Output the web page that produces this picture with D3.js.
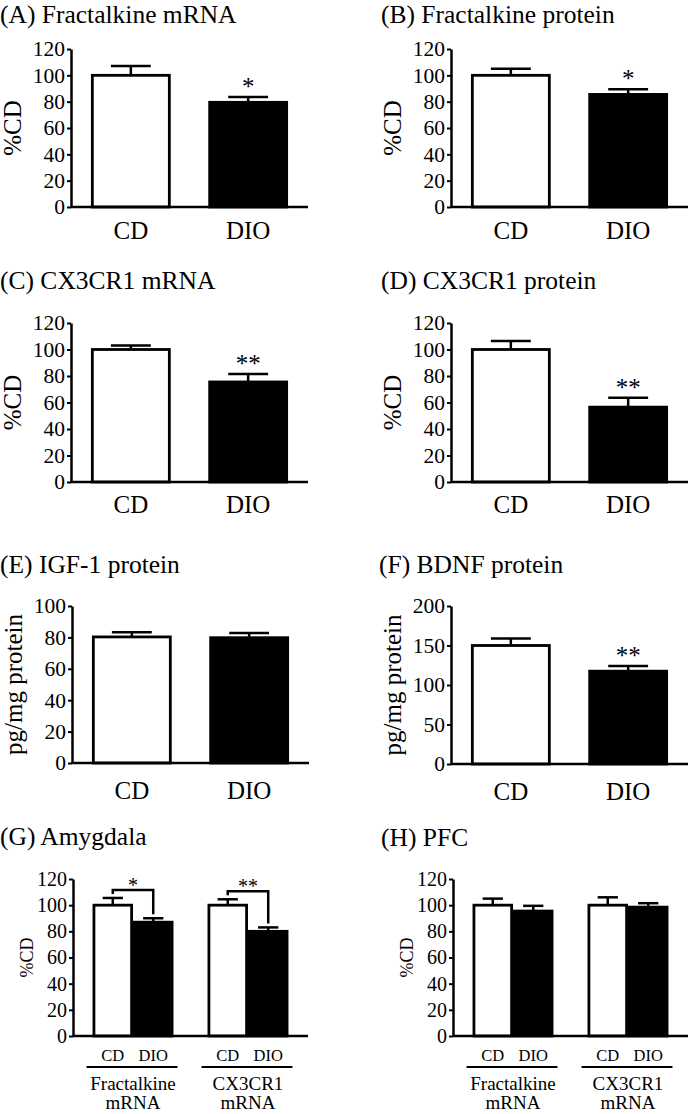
<!DOCTYPE html>
<html>
<head>
<meta charset="utf-8">
<script src="https://cdn.jsdelivr.net/npm/d3@7"></script>
<style>
  html, body { margin: 0; padding: 0; background: #fff; }
  svg { display: block; }
  svg text { font-family: "Liberation Serif", "Times New Roman", serif; fill: #000; }
</style>
</head>
<body>
<script>
// ---------------- DATA ----------------
const categories = ["CD", "DIO"];
const genes = ["Fractalkine mRNA", "CX3CR1 mRNA"];

const fractalkineMrnaMean = [100, 79.5];
const fractalkineMrnaErr = [7, 4];
const fractalkineProteinMean = [100, 85.5];
const fractalkineProteinErr = [5, 4];
const cx3cr1MrnaMean = [100, 75.5];
const cx3cr1MrnaErr = [3, 6];
const cx3cr1ProteinMean = [100, 56.5];
const cx3cr1ProteinErr = [6.5, 7];
const igf1Mean = [80.3, 79.8];
const igf1Err = [3, 3];
const bdnfMean = [150, 117.5];
const bdnfErr = [9, 6.5];

const amygdalaCDMean = [100, 100];
const amygdalaCDErr = [5.5, 4.5];
const amygdalaDIOMean = [87, 80];
const amygdalaDIOErr = [3, 3];
const pfcCDMean = [100, 100];
const pfcCDErr = [5, 6];
const pfcDIOMean = [95.5, 98.5];
const pfcDIOErr = [4, 3];

const ticks120 = [0, 20, 40, 60, 80, 100, 120];
const ticks100 = [0, 20, 40, 60, 80, 100];
const ticks200 = [0, 50, 100, 150, 200];

// ---------------- DRAW ----------------
const FONT = '"Liberation Serif", "Times New Roman", serif';
const svg = d3.select("body").append("svg").attr("width", 689).attr("height", 1114)
  .attr("font-family", FONT);

function txt(sel, fs) {
  return sel.attr("font-family", FONT).style("font-family", FONT).style("font-size", fs + "px").attr("fill", "#000");
}

function styleAxis(sel, fs) {
  sel.attr("font-family", FONT).attr("font-size", fs);
  sel.select(".domain").attr("stroke", "#000").attr("stroke-width", 2.5);
  sel.selectAll(".tick line").attr("stroke", "#000").attr("stroke-width", 2);
  txt(sel.selectAll(".tick text"), fs);
}

function drawSimple(p) {
  const g = svg.append("g");
  const x = d3.scaleBand().domain(categories).range([p.ax, p.ax + 237]).paddingInner(0.32).paddingOuter(0.17);
  const y = d3.scaleLinear().domain([0, p.max]).range([p.y0, p.yTop]);
  const ax = g.append("g").attr("transform", `translate(${p.ax},0)`)
    .call(d3.axisLeft(y).tickValues(p.ticks).tickSize(4).tickPadding(2).tickSizeOuter(0));
  styleAxis(ax, 21.5);
  const data = categories.map((c, i) => ({ c, i, m: p.means[i], e: p.errs[i] }));
  data.forEach(d => {
    const cx = x(d.c) + x.bandwidth() / 2;
    g.append("line").attr("x1", cx).attr("x2", cx).attr("y1", y(d.m)).attr("y2", y(d.m + d.e))
      .attr("stroke", "#000").attr("stroke-width", 2.5);
    g.append("line").attr("x1", cx - x.bandwidth() / 4).attr("x2", cx + x.bandwidth() / 4)
      .attr("y1", y(d.m + d.e)).attr("y2", y(d.m + d.e)).attr("stroke", "#000").attr("stroke-width", 2.5);
  });
  g.selectAll("rect.bar").data(data).join("rect")
    .attr("x", d => x(d.c) + 1.4).attr("width", x.bandwidth() - 2.8)
    .attr("y", d => y(d.m)).attr("height", d => p.y0 - y(d.m))
    .attr("fill", d => d.i === 0 ? "#fff" : "#000")
    .attr("stroke", "#000").attr("stroke-width", 2.8);
  g.append("line").attr("x1", p.ax).attr("x2", p.ax + 237).attr("y1", p.y0).attr("y2", p.y0)
    .attr("stroke", "#000").attr("stroke-width", 2.5);
  data.forEach(d => {
    if (p.sig[d.i]) {
      txt(g.append("text"), 25).attr("x", x(d.c) + x.bandwidth() / 2).attr("y", y(d.m + d.e) - 2)
        .attr("text-anchor", "middle").text(p.sig[d.i]);
    }
  });
  data.forEach(d => {
    txt(g.append("text"), 25).attr("x", x(d.c) + x.bandwidth() / 2).attr("y", p.xLabY)
      .attr("text-anchor", "middle").text(d.c);
  });
  txt(g.append("text"), 25).attr("transform", `translate(${p.ax - 50},${(p.y0 + p.yTop) / 2}) rotate(-90)`)
    .attr("text-anchor", "middle").text(p.ylabel);
  txt(g.append("text"), 25.5).attr("x", p.tx).attr("y", p.ty).text(p.title);
}

function drawGrouped(p) {
  const g = svg.append("g");
  const x0 = d3.scaleBand().domain(genes).range([p.ax, p.ax + 235]).paddingInner(0.296).paddingOuter(0.17);
  const x1 = d3.scaleBand().domain(categories).range([0, x0.bandwidth()]).padding(0);
  const y = d3.scaleLinear().domain([0, 120]).range([p.y0, p.yTop]);
  const ax = g.append("g").attr("transform", `translate(${p.ax},0)`)
    .call(d3.axisLeft(y).tickValues(ticks120).tickSize(4).tickPadding(2).tickSizeOuter(0));
  styleAxis(ax, 20);
  const data = [];
  genes.forEach((gn, gi) => {
    data.push({ gn, gi, c: "CD", i: 0, m: p.cdMean[gi], e: p.cdErr[gi] });
    data.push({ gn, gi, c: "DIO", i: 1, m: p.dioMean[gi], e: p.dioErr[gi] });
  });
  const cxOf = d => x0(d.gn) + x1(d.c) + x1.bandwidth() / 2;
  data.forEach(d => {
    const cx = cxOf(d);
    g.append("line").attr("x1", cx).attr("x2", cx).attr("y1", y(d.m)).attr("y2", y(d.m + d.e))
      .attr("stroke", "#000").attr("stroke-width", 2.5);
    g.append("line").attr("x1", cx - x1.bandwidth() / 4).attr("x2", cx + x1.bandwidth() / 4)
      .attr("y1", y(d.m + d.e)).attr("y2", y(d.m + d.e)).attr("stroke", "#000").attr("stroke-width", 2.5);
  });
  g.selectAll("rect.bar").data(data).join("rect")
    .attr("x", d => x0(d.gn) + x1(d.c) + 1.4).attr("width", x1.bandwidth() - 2.8)
    .attr("y", d => y(d.m)).attr("height", d => p.y0 - y(d.m))
    .attr("fill", d => d.i === 0 ? "#fff" : "#000")
    .attr("stroke", "#000").attr("stroke-width", 2.8);
  g.append("line").attr("x1", p.ax).attr("x2", p.ax + 235).attr("y1", p.y0).attr("y2", p.y0)
    .attr("stroke", "#000").attr("stroke-width", 2.5);
  genes.forEach((gn, gi) => {
    if (!p.sig || !p.sig[gi]) return;
    const a = data[gi * 2], b = data[gi * 2 + 1];
    const top = Math.min(y(a.m + a.e), y(b.m + b.e)) - 8;
    const xa = cxOf(a), xb = cxOf(b);
    g.append("path")
      .attr("d", `M${xa},${y(a.m + a.e) - 4}V${top}H${xb}V${y(b.m + b.e) - 4}`)
      .attr("fill", "none").attr("stroke", "#000").attr("stroke-width", 2.5);
    txt(g.append("text"), 20).attr("x", (xa + xb) / 2).attr("y", top + 2)
      .attr("text-anchor", "middle").text(p.sig[gi]);
  });
  data.forEach(d => {
    txt(g.append("text"), 16.5).attr("x", cxOf(d)).attr("y", 1061)
      .attr("text-anchor", "middle").text(d.c);
  });
  genes.forEach(gn => {
    const gx = x0(gn);
    g.append("line").attr("x1", gx - 6).attr("x2", gx + x0.bandwidth() + 4)
      .attr("y1", 1067).attr("y2", 1067).attr("stroke", "#000").attr("stroke-width", 2);
    const parts = gn.split(" ");
    txt(g.append("text"), 19).attr("x", gx + x0.bandwidth() / 2).attr("y", 1090)
      .attr("text-anchor", "middle").text(parts[0]);
    txt(g.append("text"), 19).attr("x", gx + x0.bandwidth() / 2).attr("y", 1109)
      .attr("text-anchor", "middle").text(parts[1]);
  });
  txt(g.append("text"), 18).attr("transform", `translate(${p.ax - 40},${(p.y0 + p.yTop) / 2}) rotate(-90)`)
    .attr("text-anchor", "middle").text("%CD");
  txt(g.append("text"), 25.5).attr("x", p.tx).attr("y", p.ty).text(p.title);
}

drawSimple({ title: "(A) Fractalkine mRNA", tx: 0, ty: 23, ax: 71, y0: 207, yTop: 49, max: 120, ticks: ticks120,
  ylabel: "%CD", means: fractalkineMrnaMean, errs: fractalkineMrnaErr, sig: ["", "*"], xLabY: 239 });
drawSimple({ title: "(B) Fractalkine protein", tx: 381, ty: 23, ax: 451, y0: 207, yTop: 49, max: 120, ticks: ticks120,
  ylabel: "%CD", means: fractalkineProteinMean, errs: fractalkineProteinErr, sig: ["", "*"], xLabY: 239 });
drawSimple({ title: "(C) CX3CR1 mRNA", tx: 0, ty: 289, ax: 71, y0: 482, yTop: 323, max: 120, ticks: ticks120,
  ylabel: "%CD", means: cx3cr1MrnaMean, errs: cx3cr1MrnaErr, sig: ["", "**"], xLabY: 513 });
drawSimple({ title: "(D) CX3CR1 protein", tx: 381, ty: 289, ax: 451, y0: 482, yTop: 323, max: 120, ticks: ticks120,
  ylabel: "%CD", means: cx3cr1ProteinMean, errs: cx3cr1ProteinErr, sig: ["", "**"], xLabY: 513 });
drawSimple({ title: "(E) IGF-1 protein", tx: 0, ty: 573, ax: 72, y0: 763, yTop: 606, max: 100, ticks: ticks100,
  ylabel: "pg/mg protein", means: igf1Mean, errs: igf1Err, sig: ["", ""], xLabY: 799 });
drawSimple({ title: "(F) BDNF protein", tx: 379, ty: 573, ax: 451, y0: 764, yTop: 606, max: 200, ticks: ticks200,
  ylabel: "pg/mg protein", means: bdnfMean, errs: bdnfErr, sig: ["", "**"], xLabY: 800 });
drawGrouped({ title: "(G) Amygdala", tx: 0, ty: 845, ax: 73, y0: 1036, yTop: 879,
  cdMean: amygdalaCDMean, cdErr: amygdalaCDErr, dioMean: amygdalaDIOMean, dioErr: amygdalaDIOErr, sig: ["*", "**"] });
drawGrouped({ title: "(H) PFC", tx: 381, ty: 846, ax: 453, y0: 1036, yTop: 879,
  cdMean: pfcCDMean, cdErr: pfcCDErr, dioMean: pfcDIOMean, dioErr: pfcDIOErr, sig: null });
</script>
</body>
</html>
